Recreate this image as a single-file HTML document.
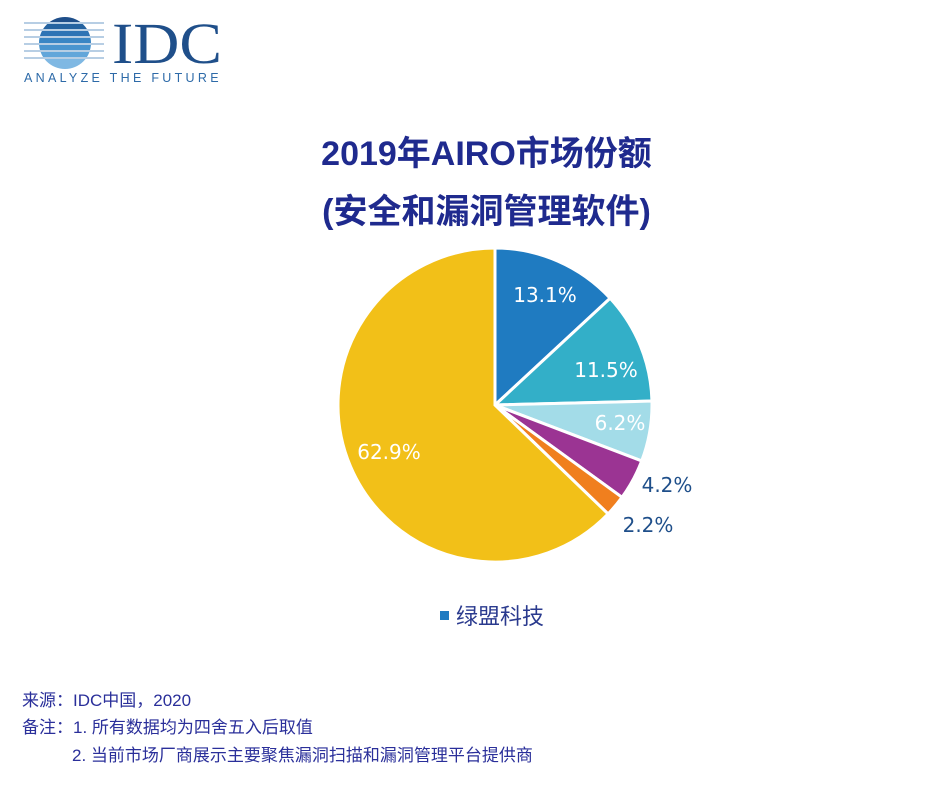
<!DOCTYPE html>
<html><head><meta charset="utf-8"><style>
body{margin:0;width:949px;height:786px;background:#fff;position:relative;overflow:hidden;font-family:"Liberation Sans","Noto Sans CJK SC",sans-serif}
.t{position:absolute;left:12px;width:949px;text-align:center;color:#1f2a8e;font-weight:bold;font-size:34px}
.f{position:absolute;color:#2a2f9a;font-size:17px}
</style></head><body>
<svg width="260" height="100" style="position:absolute;left:0;top:0">
<defs><clipPath id="c"><circle cx="65" cy="43" r="26"/></clipPath></defs>
<g clip-path="url(#c)">
<rect x="36" y="15" width="60" height="7" fill="#1f4f8a"/><rect x="36" y="24" width="60" height="5" fill="#2563a0"/>
<rect x="36" y="31" width="60" height="5" fill="#2e74b5"/><rect x="36" y="38" width="60" height="5" fill="#3a86c4"/>
<rect x="36" y="45" width="60" height="5" fill="#4a95cf"/><rect x="36" y="52" width="60" height="5" fill="#62a6da"/>
<rect x="36" y="59" width="60" height="12" fill="#7fb8e3"/></g>
<g stroke="#6f9cc8" stroke-width="1">
<line x1="24" y1="23" x2="104" y2="23"/><line x1="24" y1="30" x2="104" y2="30"/><line x1="24" y1="37" x2="104" y2="37"/>
<line x1="24" y1="44" x2="104" y2="44"/><line x1="24" y1="51" x2="104" y2="51"/><line x1="24" y1="58" x2="104" y2="58"/></g>
<text x="112" y="63" font-family="Liberation Serif,serif" font-size="58" textLength="110" lengthAdjust="spacingAndGlyphs" fill="#1f4f8a">IDC</text>
<text x="24" y="82" font-family="Liberation Sans,sans-serif" font-size="12.5" letter-spacing="3.3" fill="#2d6aa8">ANALYZE THE FUTURE</text>
</svg>
<div class="t" style="top:126px">2019年AIRO市场份额</div>
<div class="t" style="top:184px">(安全和漏洞管理软件)</div>
<svg id="p" width="949" height="786" style="position:absolute;left:0;top:0"></svg>
<div style="position:absolute;left:440px;top:599px;font-size:22px;color:#2a3a8e"><span style="display:inline-block;width:9px;height:9px;background:#1f7bc1;margin-right:7px;vertical-align:4px"></span>绿盟科技</div>
<div class="f" style="left:22px;top:686px">来源：IDC中国，2020</div>
<div class="f" style="left:22px;top:713px">备注：1. 所有数据均为四舍五入后取值</div>
<div class="f" style="left:72px;top:741px">2. 当前市场厂商展示主要聚焦漏洞扫描和漏洞管理平台提供商</div>
<script>
var cx=495,cy=405,r=157,d=[13.1,11.5,6.2,4.2,2.2,62.8],c=["#1f7bc1","#33afc8","#a3dce8","#9b3493","#f07f1e","#f2c018"],s="",a=0;
function pt(v,rr){var t=v/100*2*Math.PI;return [cx+rr*Math.sin(t),cy-rr*Math.cos(t)];}
for(var i=0;i<6;i++){var p1=pt(a,r),p2=pt(a+d[i],r);s+='<path d="M'+cx+','+cy+'L'+p1+'A'+r+','+r+' 0 '+(d[i]>50?1:0)+',1 '+p2+'Z" fill="'+c[i]+'" stroke="#fff" stroke-width="3"/>';a+=d[i];}
var L=[[545,302,"13.1%","#fff"],[606,377,"11.5%","#fff"],[620,430,"6.2%","#fff"],[667,492,"4.2%","#1f4f8a"],[648,532,"2.2%","#1f4f8a"],[389,459,"62.9%","#fff"]];
L.forEach(function(l){s+='<text x="'+l[0]+'" y="'+l[1]+'" text-anchor="middle" font-family="DejaVu Sans,sans-serif" font-size="20" font-weight="500" fill="'+l[3]+'">'+l[2]+'</text>';});
document.getElementById("p").innerHTML=s;
</script>
</body></html>
